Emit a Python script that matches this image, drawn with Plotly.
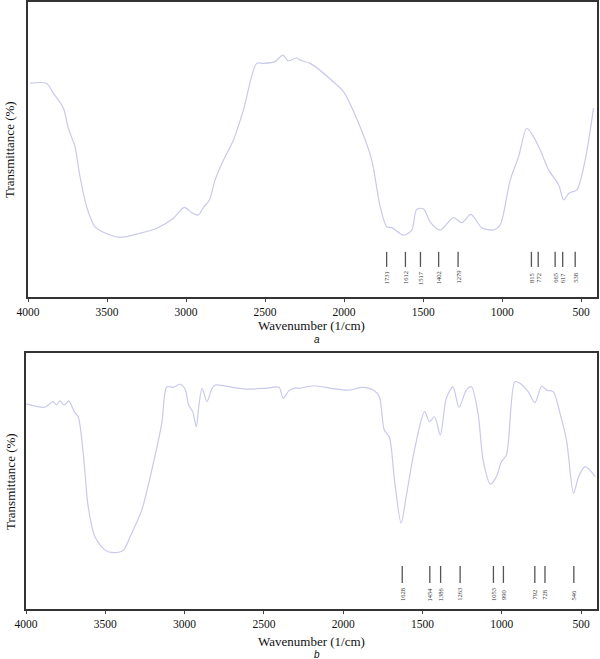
import plotly.graph_objects as go

# ---- panel a (spectrum) ----
wn_a = [3987, 3882, 3840, 3776, 3745, 3703, 3671, 3629, 3576, 3481, 3418, 3291, 3185, 3080,
        3011, 2964, 2922, 2890, 2852, 2816, 2763, 2700, 2637, 2553, 2511, 2437, 2388, 2353,
        2300, 2278, 2215, 2046, 2004, 1899, 1825, 1772, 1730, 1698, 1625, 1572, 1541, 1498,
        1456, 1392, 1308, 1255, 1198, 1129, 1055, 1013, 949, 896, 844, 801, 759, 706, 642,
        611, 578, 528, 475, 422]
tr_a = [72.5, 72.4, 69.1, 64.0, 57.2, 51.0, 40.8, 30.6, 23.8, 21.0, 20.2, 21.6, 23.3, 26.7,
        30.4, 28.6, 27.8, 30.4, 32.9, 39.7, 46.4, 53.2, 63.4, 79.2, 79.2, 79.8, 82.0, 80.0,
        81.1, 80.3, 79.2, 71.9, 69.6, 57.7, 46.4, 30.6, 23.8, 23.5, 21.0, 22.7, 29.7, 29.9,
        25.5, 22.7, 26.9, 25.2, 28.0, 23.5, 22.7, 24.4, 39.7, 47.6, 57.2, 54.3, 49.8, 43.1, 38.0,
        32.9, 35.2, 36.3, 46.4, 64.0]
peaks_a = [1731, 1612, 1517, 1402, 1279, 815, 772, 665, 617, 538]

# ---- panel b ----
wn_b = [3998, 3882, 3829, 3808, 3787, 3759, 3730, 3696, 3671, 3639, 3608, 3565, 3502, 3449,
        3386, 3344, 3270, 3207, 3144, 3112, 3070, 3028, 2996, 2975, 2949, 2926, 2911, 2890,
        2859, 2827, 2806, 2700, 2616, 2489, 2405, 2378, 2342, 2300, 2278, 2184, 2068, 1962,
        1878, 1804, 1772, 1741, 1709, 1677, 1635, 1603, 1551, 1487, 1456, 1424, 1388, 1350,
        1308, 1270, 1224, 1192, 1150, 1118, 1072, 1034, 1003, 971, 918, 886, 834, 791, 749,
        718, 676, 633, 591, 548, 516, 475, 411]
tr_b = [80.1, 78.8, 81.0, 79.7, 81.3, 79.7, 81.3, 77.1, 75.1, 60.8, 40.0, 28.2, 23.0, 22.0,
        23.0, 28.2, 38.7, 54.3, 72.5, 86.8, 86.6, 87.8, 85.8, 79.7, 77.1, 71.2, 79.0, 86.2,
        81.0, 86.2, 87.5, 86.6, 85.9, 86.2, 86.6, 82.3, 85.3, 86.4, 86.2, 87.2, 86.1, 85.5,
        86.6, 85.3, 82.9, 69.9, 67.1, 50.4, 33.5, 43.9, 62.1, 77.1, 73.2, 75.1, 68.0, 82.3,
        86.8, 78.8, 85.5, 86.8, 76.4, 58.2, 48.8, 51.7, 57.5, 60.2, 88.8, 88.2, 84.9, 80.6, 87.1,
        85.5, 84.9, 76.4, 65.4, 45.2, 51.7, 55.6, 51.7]
peaks_b = [1628, 1454, 1386, 1263, 1053, 990, 792, 728, 546]

x_ticks = [4000, 3500, 3000, 2500, 2000, 1500, 1000, 500]

LINE_COL = '#c9c9ec'
SERIF = 'Liberation Serif, Times New Roman, serif'


def stick_trace(peaks, y0, y1, xa, ya):
    xs, ys = [], []
    for p in peaks:
        xs += [p, p, None]
        ys += [y0, y1, None]
    return go.Scatter(x=xs, y=ys, mode='lines', xaxis=xa, yaxis=ya,
                      line=dict(color='#555555', width=1.3), showlegend=False,
                      hoverinfo='skip')


fig = go.Figure()
fig.add_trace(go.Scatter(x=wn_a, y=tr_a, mode='lines', xaxis='x', yaxis='y',
                         line=dict(color=LINE_COL, width=1.2, shape='spline', smoothing=0.8),
                         showlegend=False))
fig.add_trace(stick_trace(peaks_a, 10.2, 15.3, 'x', 'y'))
fig.add_trace(go.Scatter(x=wn_b, y=tr_b, mode='lines', xaxis='x2', yaxis='y2',
                         line=dict(color=LINE_COL, width=1.2, shape='spline', smoothing=0.8),
                         showlegend=False))
fig.add_trace(stick_trace(peaks_b, 10.2, 16.8, 'x2', 'y2'))

annotations = []
for p in peaks_a:
    annotations.append(dict(x=p, y=6.6, xref='x', yref='y', text=str(p), textangle=-90,
                            xanchor='center', yanchor='middle', showarrow=False,
                            font=dict(family=SERIF, size=6.5, color='#333333')))
for p in peaks_b:
    annotations.append(dict(x=p, y=5.6, xref='x2', yref='y2', text=str(p), textangle=-90,
                            xanchor='center', yanchor='middle', showarrow=False,
                            font=dict(family=SERIF, size=6.5, color='#333333')))

for yc, yt, lab in [(1 - 325 / 659, 1 - 339 / 659, 'a'), (1 - 641 / 659, 1 - 654 / 659, 'b')]:
    annotations.append(dict(x=311 / 600, y=yc, xref='paper', yref='paper',
                            text='Wavenumber (1/cm)', showarrow=False,
                            xanchor='center', yanchor='middle',
                            font=dict(family=SERIF, size=13, color='#111111')))
    annotations.append(dict(x=317 / 600, y=yt, xref='paper', yref='paper',
                            text='<i>' + lab + '</i>', showarrow=False,
                            xanchor='center', yanchor='middle',
                            font=dict(family='Liberation Sans, Arial, sans-serif', size=10,
                                      color='#111111')))

for yc in [1 - 150 / 659, 1 - 482 / 659]:
    annotations.append(dict(x=10 / 600, y=yc, xref='paper', yref='paper',
                            text='Transmittance (%)', textangle=-90, showarrow=False,
                            xanchor='center', yanchor='middle',
                            font=dict(family=SERIF, size=13, color='#111111')))

xcommon = dict(range=[4000, 400], tickvals=x_ticks, ticks='outside', ticklen=3,
               showline=True, mirror=True, linecolor='#333333', linewidth=1.6,
               showgrid=False, zeroline=False, automargin=False,
               tickfont=dict(family=SERIF, size=11.5, color='#111111'))
ycommon = dict(range=[0, 100], showticklabels=False, ticks='',
               showline=True, mirror=True, linecolor='#333333', linewidth=1.6,
               showgrid=False, zeroline=False, automargin=False)

fig.update_layout(
    width=600, height=659,
    margin=dict(l=0, r=0, t=0, b=0, pad=0),
    paper_bgcolor='white', plot_bgcolor='white',
    xaxis=dict(domain=[28 / 600, 597 / 600], anchor='y', **xcommon),
    yaxis=dict(domain=[1 - 297 / 659, 1 - 2 / 659], anchor='x', **ycommon),
    xaxis2=dict(domain=[26 / 600, 597 / 600], anchor='y2', **xcommon),
    yaxis2=dict(domain=[1 - 609 / 659, 1 - 353 / 659], anchor='x2', **ycommon),
    annotations=annotations,
)

fig.write_html("out.html", config={'displayModeBar': False},
               post_script="document.body.style.margin='0';document.body.style.overflow='hidden';")
